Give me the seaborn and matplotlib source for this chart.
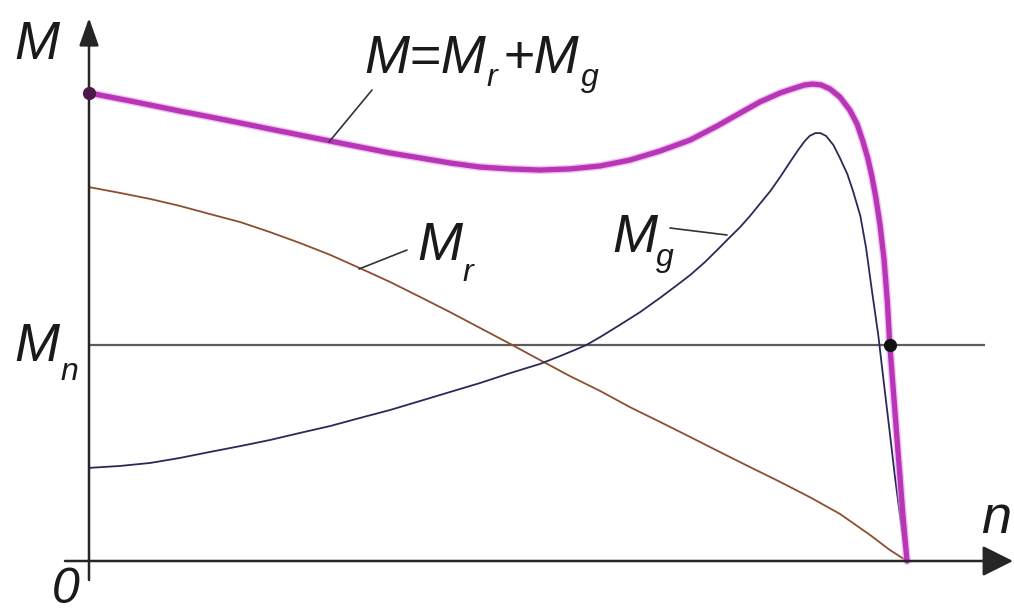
import matplotlib
matplotlib.use("Agg")
import matplotlib.pyplot as plt
import seaborn as sns

# Speed n as a fraction of synchronous speed, torque in units of rated torque Mn
n_r = [0.000, 0.038, 0.075, 0.111, 0.148, 0.185, 0.221, 0.258, 0.295, 0.331,
       0.368, 0.405, 0.441, 0.478, 0.515, 0.551, 0.588, 0.625, 0.661, 0.698,
       0.735, 0.771, 0.808, 0.845, 0.881, 0.918, 0.955, 0.979, 1.000]
m_r = [1.731, 1.704, 1.676, 1.644, 1.606, 1.569, 1.523, 1.472, 1.417, 1.356,
       1.292, 1.222, 1.153, 1.079, 1.005, 0.931, 0.856, 0.787, 0.713, 0.644,
       0.574, 0.505, 0.435, 0.366, 0.296, 0.218, 0.120, 0.051, 0.000]

n_g = [0.000, 0.038, 0.075, 0.111, 0.148, 0.185, 0.221, 0.258, 0.295, 0.331,
       0.368, 0.405, 0.441, 0.478, 0.515, 0.551, 0.576, 0.594, 0.608, 0.625,
       0.649, 0.674, 0.698, 0.716, 0.735, 0.753, 0.768, 0.780, 0.796, 0.808,
       0.820, 0.833, 0.845, 0.857, 0.867, 0.875, 0.881, 0.888, 0.894, 0.901,
       0.910, 0.918, 0.927, 0.934, 0.943, 0.950, 0.957, 0.965, 0.972, 0.979,
       0.985, 0.991, 0.996, 1.000]
m_g = [0.431, 0.440, 0.454, 0.477, 0.505, 0.532, 0.560, 0.593, 0.625, 0.662,
       0.699, 0.741, 0.782, 0.824, 0.870, 0.912, 0.949, 0.977, 1.000, 1.037,
       1.093, 1.153, 1.218, 1.269, 1.324, 1.384, 1.440, 1.486, 1.546, 1.597,
       1.653, 1.713, 1.778, 1.847, 1.903, 1.944, 1.968, 1.981, 1.981, 1.968,
       1.926, 1.866, 1.792, 1.713, 1.597, 1.449, 1.255, 1.042, 0.815, 0.593,
       0.398, 0.222, 0.083, 0.000]

n_tot = [0.000, 0.038, 0.075, 0.111, 0.148, 0.185, 0.221, 0.258, 0.295, 0.331,
         0.368, 0.405, 0.441, 0.478, 0.515, 0.551, 0.588, 0.625, 0.661, 0.698,
         0.735, 0.768, 0.796, 0.820, 0.845, 0.863, 0.875, 0.885, 0.895, 0.906,
         0.918, 0.930, 0.939, 0.946, 0.952, 0.957, 0.962, 0.967, 0.972, 0.976,
         0.979, 0.984, 0.990, 0.995, 1.000]
m_tot = [2.167, 2.139, 2.111, 2.083, 2.056, 2.028, 2.000, 1.972, 1.944, 1.917,
         1.889, 1.866, 1.843, 1.824, 1.815, 1.810, 1.815, 1.829, 1.856, 1.898,
         1.949, 2.014, 2.074, 2.125, 2.167, 2.190, 2.204, 2.208, 2.204, 2.185,
         2.148, 2.088, 2.023, 1.944, 1.866, 1.782, 1.681, 1.556, 1.394, 1.199,
         1.000, 0.755, 0.458, 0.213, 0.000]

M_RATED = 1.0        # rated torque Mn
N_OPERATING = 0.979  # speed where M meets Mn

sns.set_theme(style="white")
plt.rcParams["font.family"] = ["Liberation Sans", "DejaVu Sans"]

fig = plt.figure(figsize=(10.14, 6.13), dpi=100)
ax = fig.add_axes([0, 0, 1, 1])
ax.set_xlim(-89 / 818, 925 / 818)
ax.set_ylim(-52 / 216, 561 / 216)
ax.axis("off")


def px(x, y):
    """Canvas pixel position -> data coordinates."""
    return (x - 89) / 818, (561 - y) / 216


ink = "#262626"

# Axes with arrow heads
ax.annotate("", xy=px(89, 18), xytext=px(89, 580),
            arrowprops=dict(arrowstyle="-|>,head_length=1.7,head_width=0.6",
                            mutation_scale=10, color=ink, lw=1.8,
                            shrinkA=0, shrinkB=0))
ax.annotate("", xy=px(1013, 561), xytext=px(65, 561),
            arrowprops=dict(arrowstyle="-|>,head_length=1.9,head_width=0.95",
                            mutation_scale=10, color=ink, lw=1.8,
                            shrinkA=0, shrinkB=0))

# Rated torque level
ax.plot([0, px(985, 0)[0]], [M_RATED, M_RATED], color="#5c5c5c", lw=1.6,
        solid_capstyle="butt")

# Torque curves
sns.lineplot(x=n_r, y=m_r, ax=ax, color="#8c4f2e", lw=1.3,
             estimator=None, sort=False)
sns.lineplot(x=n_g, y=m_g, ax=ax, color="#2a2a58", lw=1.3,
             estimator=None, sort=False)
sns.lineplot(x=n_tot, y=m_tot, ax=ax, color="#ee9cee", lw=5.8,
             estimator=None, sort=False, alpha=0.6)
sns.lineplot(x=n_tot, y=m_tot, ax=ax, color="#b636b6", lw=3.8,
             estimator=None, sort=False)

# Starting torque and operating point
ax.plot([n_tot[0]], [m_tot[0]], "o", color="#4a1a48", ms=8.5, zorder=5)
ax.plot([N_OPERATING], [M_RATED], "o", color="#111111", ms=8.5, zorder=5)

# Leader lines
for (x0, y0), (x1, y1) in [((372, 90), (329, 142)),
                           ((407, 250), (359, 269)),
                           ((670, 228), (727, 235))]:
    a, b = px(x0, y0), px(x1, y1)
    ax.plot([a[0], b[0]], [a[1], b[1]], color="#333333", lw=1.2)

# Labels: italic symbols with hand-placed subscripts
BIG, SUB = 39, 23


def label(x, y, s, size=BIG):
    ax.text(*px(x, y), s, fontsize=size, fontstyle="italic",
            ha="left", va="baseline", color="#1a1a1a")


label(14, 59, "M")
label(364, 73, "M=M")
label(486, 86, "r", SUB)
label(503, 73, "+M")
label(581, 86, "g", SUB)
label(14, 361, "M")
label(60, 380, "n", SUB)
label(52, 603, "0", 36)
label(981, 533, "n")
label(417, 260, "M")
label(462, 281, "r", SUB)
label(612, 252, "M")
label(656, 266, "g", SUB)

fig.savefig("out.png", dpi=100, facecolor="white")
